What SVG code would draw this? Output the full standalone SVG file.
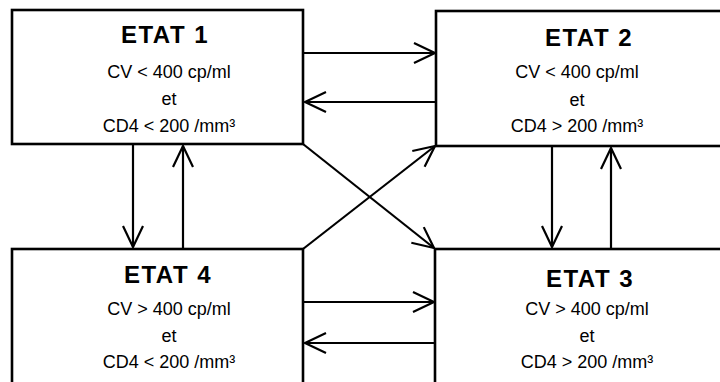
<svg xmlns="http://www.w3.org/2000/svg" width="720" height="382" viewBox="0 0 720 382">
<style>
.box{fill:#fff;stroke:#000;stroke-width:2.6}
.t{font-family:"Liberation Sans",Arial,sans-serif;font-weight:bold;font-size:24px;letter-spacing:1.5px;text-anchor:middle;fill:#000}
.s{font-family:"Liberation Sans",Arial,sans-serif;font-size:18px;text-anchor:middle;fill:#000}
.c{stroke:#000;stroke-width:2.2;fill:none;marker-end:url(#ah)}
</style>
<defs>
<marker id="ah" viewBox="-24 -12 26 24" refX="0" refY="0" markerWidth="26" markerHeight="24" markerUnits="userSpaceOnUse" orient="auto">
<path d="M-21,-10 L0,0 L-21,10" fill="none" stroke="#000" stroke-width="2.2"/>
</marker>
</defs>
<rect width="720" height="382" fill="#fff"/>
<g id="etat1">
<rect class="box" x="12" y="10" width="291" height="134"/>
<text class="t" x="165" y="43">ETAT 1</text>
<text class="s" x="169" y="78">CV &lt; 400 cp/ml</text>
<text class="s" x="169" y="105">et</text>
<text class="s" x="169" y="132">CD4 &lt; 200 /mm³</text>
</g>
<g id="etat2">
<rect class="box" x="436" y="11" width="300" height="135"/>
<text class="t" x="589" y="46">ETAT 2</text>
<text class="s" x="577" y="78">CV &lt; 400 cp/ml</text>
<text class="s" x="577" y="106">et</text>
<text class="s" x="577" y="132">CD4 &gt; 200 /mm³</text>
</g>
<g id="etat4">
<rect class="box" x="12" y="249" width="291" height="150"/>
<text class="t" x="168" y="283">ETAT 4</text>
<text class="s" x="169" y="315">CV &gt; 400 cp/ml</text>
<text class="s" x="169" y="342">et</text>
<text class="s" x="169" y="368">CD4 &lt; 200 /mm³</text>
</g>
<g id="etat3">
<rect class="box" x="435" y="249" width="300" height="150"/>
<text class="t" x="590" y="287">ETAT 3</text>
<text class="s" x="587" y="315">CV &gt; 400 cp/ml</text>
<text class="s" x="587" y="342">et</text>
<text class="s" x="587" y="368">CD4 &gt; 200 /mm³</text>
</g>
<g id="connectors">
<line class="c" x1="303" y1="53" x2="435" y2="53"/>
<line class="c" x1="436" y1="102" x2="305" y2="102"/>
<line class="c" x1="133" y1="144" x2="133" y2="247"/>
<line class="c" x1="183" y1="249" x2="183" y2="146"/>
<line class="c" x1="303" y1="144" x2="434" y2="248"/>
<line class="c" x1="303" y1="249" x2="435" y2="146"/>
<line class="c" x1="552" y1="146" x2="552" y2="247"/>
<line class="c" x1="611" y1="249" x2="611" y2="148"/>
<line class="c" x1="303" y1="302" x2="434" y2="302"/>
<line class="c" x1="435" y1="343" x2="305" y2="343"/>
</g>
</svg>
